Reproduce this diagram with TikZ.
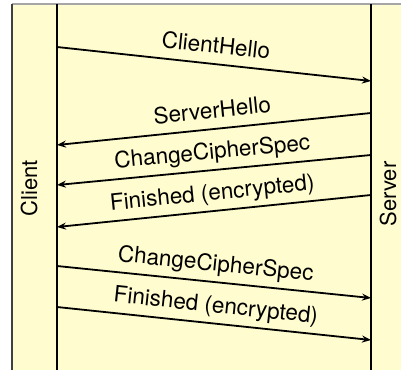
\documentclass[tikz,border=0pt]{standalone}
\usepackage{fontspec}
\setmainfont{TeX Gyre Heros}
\usepackage{tikz}
\usetikzlibrary{arrows.meta}
\usepackage{xcolor}
\definecolor{bgyellow}{RGB}{255,252,208}

\begin{document}
\begin{tikzpicture}[x=1pt,y=-1pt,>={Stealth[length=9pt,width=7pt]},
        msg/.style={->,line width=1.8pt},
        lifeline/.style={line width=2.2pt},
        lbl/.style={midway,sloped,above=10pt,text depth=0pt,inner sep=0pt,
            font=\fontsize{22.5}{27}\selectfont},
        party/.style={rotate=90,font=\fontsize{22}{26}\selectfont}]
    \useasboundingbox (0,0) rectangle (401,370);
    % --- Background and frame (right and bottom edges fall outside the page) ---
    \fill[bgyellow] (12,4) rectangle (401,370);
    \draw[line width=1.2pt,black!35] (12,4) -- (401,4);
    \draw[line width=1.6pt,black!75] (12,370) -- (12,4);
    % --- Lifelines: client at left, server at right ---
    \coordinate (clientTop) at (57,4);
    \coordinate (clientBot) at (57,370);
    \coordinate (serverTop) at (371,4);
    \coordinate (serverBot) at (371,370);
    \draw[lifeline] (clientTop) -- (clientBot);
    \draw[lifeline] (serverTop) -- (serverBot);
    \node[party] (client) at (29,188) {Client};
    \node[party] (server) at (388,194) {Server};
    % --- Message end points on the two lifelines ---
    \coordinate (c1) at (57,47);   \coordinate (s1) at (371,81);
    \coordinate (s2) at (371,113); \coordinate (c2) at (57,145);
    \coordinate (s3) at (371,155); \coordinate (c3) at (57,185);
    \coordinate (s4) at (371,195); \coordinate (c4) at (57,227);
    \coordinate (c5) at (57,266);  \coordinate (s5) at (371,298);
    \coordinate (c6) at (57,307);  \coordinate (s6) at (371,340);
    % --- Handshake messages ---
    \draw[msg] (c1) -- (s1) node[lbl] (m1) {ClientHello};
    \draw[msg] (s2) -- (c2) node[lbl] (m2) {ServerHello};
    \draw[msg] (s3) -- (c3) node[lbl] (m3) {ChangeCipherSpec};
    \draw[msg] (s4) -- (c4) node[lbl] (m4) {Finished (encrypted)};
    \draw[msg] (c5) -- (s5) node[lbl] (m5) {ChangeCipherSpec};
    \draw[msg] (c6) -- (s6) node[lbl] (m6) {Finished (encrypted)};
\end{tikzpicture}
\end{document}
